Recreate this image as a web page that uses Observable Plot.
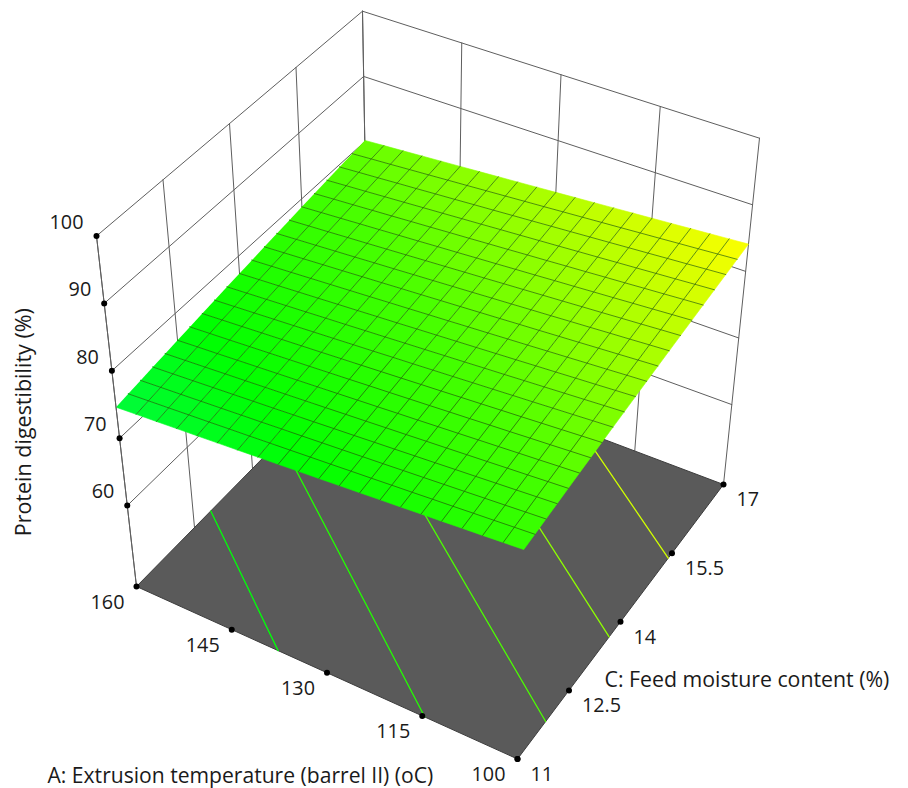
<!DOCTYPE html>
<html>
<head>
<meta charset="utf-8">
<script src="https://cdn.jsdelivr.net/npm/d3@7"></script>
<script src="https://cdn.jsdelivr.net/npm/@observablehq/plot@0.6"></script>
<style>html,body{margin:0;padding:0;background:#fff}svg{display:block}</style>
</head>
<body>
<div id="chart"></div>
<script>
// ---- data ----
const aTicks = [160, 145, 130, 115, 100];
const cTicks = [11, 12.5, 14, 15.5, 17];
const zTicks = [60, 70, 80, 90, 100];
const zFloor = 48;
const aMesh = [160,157,154,151,148,145,142,139,136,133,130,127,124,121,118,115,112,109,106,103,100];
const cMesh = [11,11.3,11.6,11.9,12.2,12.5,12.8,13.1,13.4,13.7,14,14.3,14.6,14.9,15.2,15.5,15.8,16.1,16.4,16.7,17];
// rows follow cMesh, columns follow aMesh
const surfaceZ = [
[74.60,74.80,74.99,75.19,75.38,75.58,75.77,75.97,76.16,76.36,76.55,76.75,76.94,77.14,77.33,77.53,77.72,77.92,78.11,78.31,78.50],
[74.88,75.08,75.27,75.47,75.66,75.86,76.05,76.25,76.44,76.64,76.83,77.03,77.22,77.42,77.61,77.81,78.00,78.20,78.39,78.59,78.78],
[75.16,75.36,75.55,75.75,75.94,76.14,76.33,76.53,76.72,76.92,77.11,77.31,77.50,77.70,77.89,78.09,78.28,78.48,78.67,78.87,79.06],
[75.44,75.64,75.83,76.03,76.22,76.42,76.61,76.81,77.00,77.20,77.39,77.59,77.78,77.98,78.17,78.37,78.56,78.76,78.95,79.15,79.34],
[75.72,75.92,76.11,76.31,76.50,76.70,76.89,77.09,77.28,77.48,77.67,77.87,78.06,78.26,78.45,78.65,78.84,79.04,79.23,79.43,79.62],
[76.00,76.20,76.39,76.59,76.78,76.98,77.17,77.37,77.56,77.76,77.95,78.15,78.34,78.54,78.73,78.93,79.12,79.32,79.51,79.71,79.90],
[76.28,76.48,76.67,76.87,77.06,77.26,77.45,77.65,77.84,78.04,78.23,78.43,78.62,78.82,79.01,79.21,79.40,79.60,79.79,79.99,80.18],
[76.56,76.76,76.95,77.15,77.34,77.54,77.73,77.93,78.12,78.32,78.51,78.71,78.90,79.10,79.29,79.49,79.68,79.88,80.07,80.27,80.46],
[76.84,77.04,77.23,77.43,77.62,77.82,78.01,78.21,78.40,78.60,78.79,78.99,79.18,79.38,79.57,79.77,79.96,80.16,80.35,80.55,80.74],
[77.12,77.32,77.51,77.71,77.90,78.10,78.29,78.49,78.68,78.88,79.07,79.27,79.46,79.66,79.85,80.05,80.24,80.44,80.63,80.83,81.02],
[77.40,77.60,77.79,77.99,78.18,78.38,78.57,78.77,78.96,79.16,79.35,79.55,79.74,79.94,80.13,80.33,80.52,80.72,80.91,81.11,81.30],
[77.68,77.88,78.07,78.27,78.46,78.66,78.85,79.05,79.24,79.44,79.63,79.83,80.02,80.22,80.41,80.61,80.80,81.00,81.19,81.39,81.58],
[77.96,78.16,78.35,78.55,78.74,78.94,79.13,79.33,79.52,79.72,79.91,80.11,80.30,80.50,80.69,80.89,81.08,81.28,81.47,81.67,81.86],
[78.24,78.44,78.63,78.83,79.02,79.22,79.41,79.61,79.80,80.00,80.19,80.39,80.58,80.78,80.97,81.17,81.36,81.56,81.75,81.95,82.14],
[78.52,78.72,78.91,79.11,79.30,79.50,79.69,79.89,80.08,80.28,80.47,80.67,80.86,81.06,81.25,81.45,81.64,81.84,82.03,82.23,82.42],
[78.80,79.00,79.19,79.39,79.58,79.78,79.97,80.17,80.36,80.56,80.75,80.95,81.14,81.34,81.53,81.73,81.92,82.12,82.31,82.51,82.70],
[79.08,79.28,79.47,79.67,79.86,80.06,80.25,80.45,80.64,80.84,81.03,81.23,81.42,81.62,81.81,82.01,82.20,82.40,82.59,82.79,82.98],
[79.36,79.56,79.75,79.95,80.14,80.34,80.53,80.73,80.92,81.12,81.31,81.51,81.70,81.90,82.09,82.29,82.48,82.68,82.87,83.07,83.26],
[79.64,79.84,80.03,80.23,80.42,80.62,80.81,81.01,81.20,81.40,81.59,81.79,81.98,82.18,82.37,82.57,82.76,82.96,83.15,83.35,83.54],
[79.92,80.12,80.31,80.51,80.70,80.90,81.09,81.29,81.48,81.68,81.87,82.07,82.26,82.46,82.65,82.85,83.04,83.24,83.43,83.63,83.82],
[80.20,80.40,80.59,80.79,80.98,81.18,81.37,81.57,81.76,81.96,82.15,82.35,82.54,82.74,82.93,83.13,83.32,83.52,83.71,83.91,84.10]
];
// contour lines on the floor: level, then (A, C) of both ends
const contourLevels = [76.2, 77.9, 79.5, 81.2, 82.9];
const contourA1 = [137.7, 114.6, 100, 100, 100];
const contourC1 = [11, 11, 11.82, 13.67, 15.39];
const contourA2 = [160, 160, 160, 147.2, 124];
const contourC2 = [12.92, 14.72, 16.36, 17, 17];

const xTitle = "A: Extrusion temperature (barrel II) (oC)";
const yTitle = "C: Feed moisture content (%)";
const zTitle = "Protein digestibility (%)";

// ---- the view of the box: where its eight corners fall in plot units ----
const view = {
  p000: [136, 586],   p100: [517, 758.5], p010: [368, 350],   p110: [723, 484],
  p001: [96, 235.5],  p101: [527.7, 401.5], p011: [362, 10.7], p111: [759, 137.7]
};
const [aLo, aHi] = [160, 100], [cLo, cHi] = [11, 17], [zLo, zHi] = [zFloor, 100];
function project(a, c, z) {
  const u = (a - aLo) / (aHi - aLo), v = (c - cLo) / (cHi - cLo), w = (z - zLo) / (zHi - zLo);
  const mix = k =>
    (1-w) * ((1-v) * ((1-u)*view.p000[k] + u*view.p100[k]) + v * ((1-u)*view.p010[k] + u*view.p110[k])) +
    w     * ((1-v) * ((1-u)*view.p001[k] + u*view.p101[k]) + v * ((1-u)*view.p011[k] + u*view.p111[k]));
  return {x: mix(0), y: mix(1)};
}
function seg(id, pts, extra) {
  return pts.map(([a, c, z]) => ({id, ...project(a, c, z), ...extra}));
}

// walls
const wallLines = [];
zTicks.forEach(z => {
  wallLines.push(...seg("zl" + z, [[aLo, cLo, z], [aLo, cHi, z]]));
  wallLines.push(...seg("zb" + z, [[aLo, cHi, z], [aHi, cHi, z]]));
});
cTicks.forEach(c => wallLines.push(...seg("cw" + c, [[aLo, c, zLo], [aLo, c, zHi]])));
aTicks.forEach(a => wallLines.push(...seg("aw" + a, [[a, cHi, zLo], [a, cHi, zHi]])));

// floor
const floor = seg("floor", [[aLo,cLo,zLo],[aHi,cLo,zLo],[aHi,cHi,zLo],[aLo,cHi,zLo],[aLo,cLo,zLo]]);

// contours
const contours = contourLevels.flatMap((lv, i) =>
  seg("c" + i, [[contourA1[i], contourC1[i], zLo], [contourA2[i], contourC2[i], zLo]], {lv}));

// surface cells
const cells = [];
for (let j = 0; j < cMesh.length - 1; j++) for (let i = 0; i < aMesh.length - 1; i++) {
  const zc = (surfaceZ[j][i] + surfaceZ[j][i+1] + surfaceZ[j+1][i] + surfaceZ[j+1][i+1]) / 4;
  cells.push(...seg(`s${j}_${i}`, [
    [aMesh[i], cMesh[j], surfaceZ[j][i]], [aMesh[i+1], cMesh[j], surfaceZ[j][i+1]],
    [aMesh[i+1], cMesh[j+1], surfaceZ[j+1][i+1]], [aMesh[i], cMesh[j+1], surfaceZ[j+1][i]]
  ], {zc}));
}
// inner mesh lines
const mesh = [];
for (let j = 1; j < cMesh.length - 1; j++)
  mesh.push(...seg("mr" + j, aMesh.map((a, i) => [a, cMesh[j], surfaceZ[j][i]])));
for (let i = 1; i < aMesh.length - 1; i++)
  mesh.push(...seg("mc" + i, cMesh.map((c, j) => [aMesh[i], c, surfaceZ[j][i]])));

// ticks
const aDots = aTicks.map(a => ({label: String(a), ...project(a, cLo, zLo)}));
const cDots = cTicks.map(c => ({label: String(c), ...project(aHi, c, zLo)}));
const zDots = zTicks.map(z => ({label: String(z), ...project(aLo, cLo, z)}));
const axisLine = seg("zaxis", [[aLo, cLo, zLo], [aLo, cLo, zHi]]);

const fs = 19.8;
const chart = Plot.plot({
  width: 908, height: 788,
  margin: 0,
  style: {background: "#fff", fontFamily: "'Open Sans', sans-serif", overflow: "visible"},
  x: {domain: [0, 908], range: [0, 908], axis: null},
  y: {domain: [0, 788], range: [0, 788], axis: null},
  color: {type: "linear", domain: [74.6, 76.5, 79.35, 84.1], range: ["rgb(0,252,60)", "rgb(0,255,0)", "rgb(70,255,0)", "rgb(255,255,0)"], interpolate: "rgb", legend: false},
  marks: [
    Plot.line(wallLines, {x: "x", y: "y", z: "id", stroke: "#5e5e5e", strokeWidth: 1}),
    Plot.line(floor, {x: "x", y: "y", z: "id", fill: "#5a5a5a", stroke: "#3c3c3c", strokeWidth: 1}),
    Plot.line(contours, {x: "x", y: "y", z: "id", stroke: "lv", strokeWidth: 1.3}),
    Plot.line(cells, {x: "x", y: "y", z: "id", fill: "zc", stroke: "zc", strokeWidth: 0.6}),
    Plot.line(mesh, {x: "x", y: "y", z: "id", stroke: "#1f5a08", strokeOpacity: 0.8, strokeWidth: 0.85}),
    Plot.line(axisLine, {x: "x", y: "y", z: "id", stroke: "#5e5e5e", strokeWidth: 1}),
    Plot.dot(aDots.slice(1).concat(cDots, zDots, aDots.slice(0, 1)), {x: "x", y: "y", r: 3, fill: "#000", stroke: "none"}),
    Plot.text(zDots, {x: "x", y: "y", text: "label", textAnchor: "end", dx: -13, dy: -13.5, fontSize: fs, fill: "#1a1a1a"}),
    Plot.text(aDots, {x: "x", y: "y", text: "label", textAnchor: "end", dx: -12, dy: 16, fontSize: fs, fill: "#1a1a1a"}),
    Plot.text(cDots, {x: "x", y: "y", text: "label", textAnchor: "start", dx: 13, dy: 15.6, fontSize: fs, fill: "#1a1a1a"}),
    Plot.text([project(130, cLo, zLo)], {x: "x", y: "y", text: [xTitle], textAnchor: "start", dx: -279.5, dy: 103, fontSize: 21.1, fill: "#1a1a1a"}),
    Plot.text([project(aHi, 14, zLo)], {x: "x", y: "y", text: [yTitle], textAnchor: "start", dx: -16, dy: 58.5, fontSize: 21.3, fill: "#1a1a1a"}),
    Plot.text([project(aLo, cLo, 70)], {x: "x", y: "y", text: [zTitle], rotate: -90, textAnchor: "middle", dx: -95, dy: -16, fontSize: 21.5, fill: "#1a1a1a"})
  ]
});
document.getElementById("chart").append(chart);
</script>
</body>
</html>
